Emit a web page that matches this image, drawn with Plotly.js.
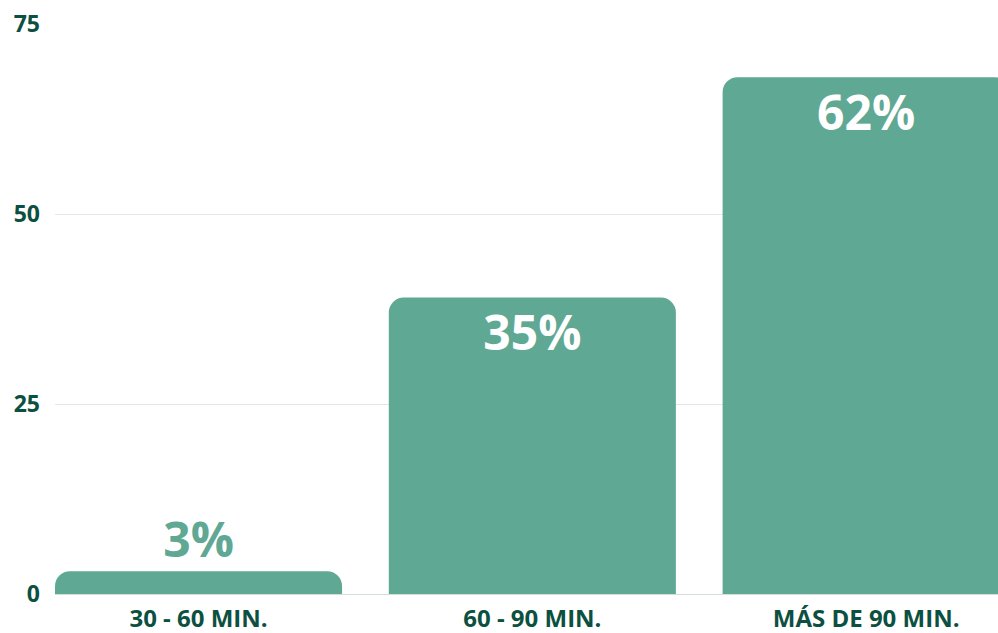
<!DOCTYPE html>
<html>
<head>
<meta charset="utf-8">
<script src="https://cdn.plot.ly/plotly-3.0.1.min.js"></script>
<style>html,body{margin:0;padding:0;overflow:hidden;background:#fff}#chart{width:998px;height:633px}</style>
</head>
<body>
<div id="chart"></div>
<script>
const categories = ["30 - 60 MIN.", "60 - 90 MIN.", "MÁS DE 90 MIN."];
const values = [3, 39, 68];
const labels = ["3%", "35%", "62%"];
const yTicks = [0, 25, 50, 75];

const barColor = "#5fa894";
const textColor = "#0b5040";

const bars = {
  type: "bar",
  x: categories,
  y: values,
  marker: {color: barColor, cornerradius: 15},
  hoverinfo: "none"
};

const valueLabels = {
  type: "scatter",
  mode: "markers+text",
  x: categories,
  y: values,
  text: labels,
  textposition: ["top center", "bottom center", "bottom center"],
  textfont: {family: "Open Sans", size: 48, weight: 700, color: [barColor, "#ffffff", "#ffffff"]},
  marker: {size: [2, 25, 25], opacity: 0, color: barColor},
  cliponaxis: false,
  hoverinfo: "none"
};

const layout = {
  width: 998, height: 633,
  margin: {l: 55, r: 0, t: 24, b: 39},
  paper_bgcolor: "#ffffff", plot_bgcolor: "#ffffff",
  bargap: 0.14,
  showlegend: false,
  font: {family: "Open Sans", color: textColor},
  xaxis: {
    type: "category",
    range: [-0.43, 2.395],
    showgrid: false,
    zeroline: false,
    showline: false,
    ticklabelstandoff: 8,
    tickfont: {family: "Open Sans", size: 24, weight: 700, color: textColor},
    fixedrange: true
  },
  yaxis: {
    range: [0, 75],
    tickvals: yTicks,
    ticktext: yTicks.map(String),
    showgrid: true,
    gridcolor: "#e0e9e6",
    gridwidth: 1,
    zeroline: true,
    zerolinecolor: "#d2deda",
    zerolinewidth: 1,
    showline: false,
    ticklabelstandoff: 14,
    tickfont: {family: "Open Sans", size: 23, weight: 700, color: textColor},
    fixedrange: true
  }
};

Plotly.newPlot("chart", [bars, valueLabels], layout, {displayModeBar: false, staticPlot: true});
</script>
</body>
</html>
